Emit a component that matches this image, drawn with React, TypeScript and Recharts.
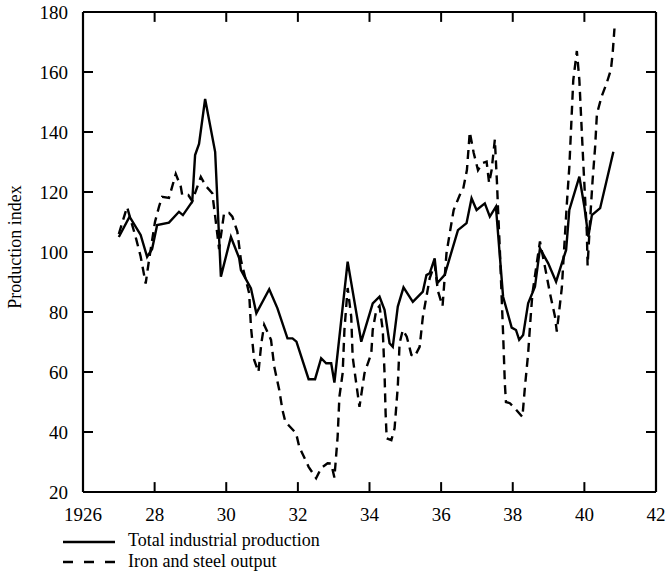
import { LineChart, Line, XAxis, YAxis, ReferenceLine } from "recharts";

// Total industrial production (solid line)
const totalYears = [
  1927.0, 1927.3, 1927.61, 1927.79, 1927.93, 1928.07, 1928.4, 1928.68, 1928.79, 1929.05,
  1929.13, 1929.24, 1929.41, 1929.69, 1929.85, 1930.13, 1930.36, 1930.41, 1930.69, 1930.84,
  1931.2, 1931.43, 1931.71, 1931.85, 1931.96, 1932.3, 1932.48, 1932.65, 1932.79, 1932.93,
  1933.02, 1933.39, 1933.77, 1934.09, 1934.28, 1934.42, 1934.56, 1934.65, 1934.79, 1934.95,
  1935.21, 1935.49, 1935.59, 1935.68, 1935.82, 1935.89, 1936.1, 1936.47, 1936.71, 1936.85,
  1936.99, 1937.22, 1937.36, 1937.53, 1937.73, 1937.97, 1938.09, 1938.18, 1938.29, 1938.43,
  1938.62, 1938.76, 1938.99, 1939.21, 1939.37, 1939.49, 1939.58, 1939.86, 1940.0, 1940.11,
  1940.21, 1940.44, 1940.81,
];
const totalValues = [
  105, 111.8, 105.7, 98.4, 101, 109, 109.8, 113.4, 112.3, 116.8,
  132.3, 136, 151, 133.4, 91.8, 105, 98, 94, 87.9, 79.6,
  87.6, 81.2, 71.2, 71.2, 70.1, 57.6, 57.6, 64.6, 62.9, 62.9,
  56.5, 96.8, 70.1, 82.9, 85.1, 80.7, 69.6, 68.4, 81.8, 88.2,
  83.4, 86.8, 92.3, 92.9, 97.9, 89.6, 92.4, 107.3, 109.6, 117.9,
  114, 116.2, 111.8, 115.1, 85.1, 74.8, 74, 70.7, 72.3, 82.9,
  88.4, 101.2, 96.2, 90.1, 96.2, 100.7, 114, 125.1, 115.1, 105.1,
  112.3, 114.6, 133.4,
];

// Iron and steel output (dashed line)
const steelYears = [
  1927.0, 1927.23, 1927.47, 1927.61, 1927.75, 1927.84, 1928.01, 1928.12, 1928.21, 1928.4,
  1928.59, 1928.73, 1928.77, 1928.94, 1929.05, 1929.29, 1929.43, 1929.61, 1929.71, 1929.8,
  1929.94, 1930.08, 1930.17, 1930.31, 1930.41, 1930.64, 1930.69, 1930.78, 1930.9, 1930.98,
  1931.06, 1931.25, 1931.34, 1931.48, 1931.57, 1931.65, 1931.76, 1931.95, 1932.04, 1932.3,
  1932.51, 1932.65, 1932.83, 1932.93, 1933.02, 1933.11, 1933.16, 1933.25, 1933.3, 1933.39,
  1933.49, 1933.53, 1933.63, 1933.72, 1933.86, 1934.05, 1934.09, 1934.19, 1934.28, 1934.37,
  1934.42, 1934.45, 1934.48, 1934.61, 1934.7, 1934.79, 1934.84, 1934.93, 1935.04, 1935.17,
  1935.26, 1935.4, 1935.49, 1935.59, 1935.68, 1935.82, 1935.91, 1936.04, 1936.15, 1936.24,
  1936.35, 1936.52, 1936.61, 1936.72, 1936.8, 1936.91, 1937.03, 1937.15, 1937.27, 1937.34,
  1937.41, 1937.5, 1937.56, 1937.59, 1937.64, 1937.69, 1937.73, 1937.78, 1937.81, 1937.92,
  1938.06, 1938.27, 1938.34, 1938.43, 1938.5, 1938.55, 1938.67, 1938.76, 1938.9, 1939.04,
  1939.18, 1939.23, 1939.3, 1939.37, 1939.51, 1939.58, 1939.69, 1939.79, 1939.86, 1939.97,
  1940.07, 1940.09, 1940.16, 1940.23, 1940.3, 1940.35, 1940.48, 1940.62, 1940.74, 1940.79,
  1940.84,
];
const steelValues = [
  106, 115, 105, 98.5, 89.5, 97, 110, 115, 118.4, 118,
  126, 121.8, 119, 119, 117, 125, 122, 119.6, 110, 101,
  113, 113, 111.8, 106.8, 97.3, 86.2, 75, 64, 60, 69.6,
  75.7, 70.7, 61.8, 54, 47.3, 43.4, 42, 39.6, 35, 28.4,
  24.6, 28, 29.6, 29.5, 24.8, 38.4, 51.8, 59.6, 74, 88,
  78.4, 65, 56.2, 48.4, 59.6, 66.2, 74, 80.7, 82, 74,
  59.6, 46.2, 37.9, 37.3, 41.2, 55.1, 69.6, 74, 71.8, 65.7,
  65.1, 68.4, 78.4, 85.1, 91.2, 96, 87, 82, 99.6, 106.2,
  114, 119, 120.7, 127.3, 140, 133, 127.3, 129.6, 130.1, 123,
  127.3, 137.5, 123, 114, 100.7, 85, 73, 56, 50, 49.6,
  47.9, 45, 55, 66.2, 78.4, 86.2, 96.2, 103.5, 95, 86.2,
  78.4, 73.5, 80.7, 88, 116, 128.4, 157.3, 167, 157.3, 129.6,
  106.2, 95.5, 110.7, 124, 135, 146, 151.8, 156.2, 160.7, 166.2,
  174.5,
];

const xTicks = [1926, 1928, 1930, 1932, 1934, 1936, 1938, 1940, 1942];
const yTicks = [20, 40, 60, 80, 100, 120, 140, 160, 180];

const totalData = totalYears.map((year, i) => ({ year, value: totalValues[i] }));
const steelData = steelYears.map((year, i) => ({ year, value: steelValues[i] }));

const X_MIN = 1926;
const X_MAX = 1942;
const Y_MIN = 20;
const Y_MAX = 180;
// inward tick length (~10px) in axis units
const TICK_X = 0.28;
const TICK_Y = 3.3;

const font = "'Liberation Serif', 'DejaVu Serif', serif";

const XTick = (props: any) => {
  const { x, y, payload } = props;
  const v = payload.value;
  const label = v === 1926 ? "1926" : String(v).slice(2);
  return (
    <text x={x} y={y} dy="0.71em" textAnchor="middle" fontSize={19} fontFamily={font} fill="#000">
      {label}
    </text>
  );
};

const YTick = (props: any) => {
  const { x, y, payload } = props;
  return (
    <text x={x} y={y} dy="0.355em" textAnchor="end" fontSize={19} fontFamily={font} fill="#000">
      {payload.value}
    </text>
  );
};

const innerX = xTicks.slice(1, -1);
const innerY = yTicks.slice(1, -1);

export default function App() {
  return (
    <div
      style={{
        position: "absolute",
        left: 0,
        top: 0,
        width: 667,
        height: 576,
        background: "#fff",
        fontFamily: font,
      }}
    >
      <LineChart width={667} height={576} margin={{ top: 12, right: 11, left: 0, bottom: 54 }}>
        <XAxis
          dataKey="year"
          type="number"
          domain={[X_MIN, X_MAX]}
          ticks={xTicks}
          height={30}
          interval={0}
          tick={<XTick />}
          stroke="#000"
          axisLine={{ strokeWidth: 2.2 }}
          tickLine={false}
          tickSize={0}
          tickMargin={16}
        />
        <YAxis
          type="number"
          domain={[Y_MIN, Y_MAX]}
          ticks={yTicks}
          width={83}
          interval={0}
          tick={<YTick />}
          stroke="#000"
          axisLine={{ strokeWidth: 2.2 }}
          tickLine={false}
          tickSize={0}
          tickMargin={15}
        />
        <ReferenceLine x={X_MAX} stroke="#000" strokeWidth={2.2} />
        <ReferenceLine y={Y_MAX} stroke="#000" strokeWidth={2.2} />
        {innerX.map((t) => (
          <ReferenceLine
            key={`xb${t}`}
            segment={[{ x: t, y: Y_MIN }, { x: t, y: Y_MIN + TICK_Y }]}
            stroke="#000"
            strokeWidth={2}
          />
        ))}
        {innerX.map((t) => (
          <ReferenceLine
            key={`xt${t}`}
            segment={[{ x: t, y: Y_MAX }, { x: t, y: Y_MAX - TICK_Y }]}
            stroke="#000"
            strokeWidth={2}
          />
        ))}
        {innerY.map((t) => (
          <ReferenceLine
            key={`yl${t}`}
            segment={[{ x: X_MIN, y: t }, { x: X_MIN + TICK_X, y: t }]}
            stroke="#000"
            strokeWidth={2}
          />
        ))}
        {innerY.map((t) => (
          <ReferenceLine
            key={`yr${t}`}
            segment={[{ x: X_MAX, y: t }, { x: X_MAX - TICK_X, y: t }]}
            stroke="#000"
            strokeWidth={2}
          />
        ))}
        <Line
          data={totalData}
          dataKey="value"
          type="linear"
          stroke="#000"
          strokeWidth={2.4}
          dot={false}
          isAnimationActive={false}
        />
        <Line
          data={steelData}
          dataKey="value"
          type="linear"
          stroke="#000"
          strokeWidth={2.4}
          strokeDasharray="9 6"
          dot={false}
          isAnimationActive={false}
        />
      </LineChart>

      <div
        style={{
          position: "absolute",
          left: 15,
          top: 247,
          fontSize: 18,
          color: "#000",
          whiteSpace: "nowrap",
          transform: "translate(-50%, -50%) rotate(-90deg)",
        }}
      >
        Production index
      </div>

      <svg width={60} height={40} style={{ position: "absolute", left: 60, top: 530 }}>
        <line x1={3} y1={12} x2={55} y2={12} stroke="#000" strokeWidth={2.6} />
        <line
          x1={3}
          y1={32}
          x2={55}
          y2={32}
          stroke="#000"
          strokeWidth={2.6}
          strokeDasharray="10 11"
        />
      </svg>
      <div
        style={{
          position: "absolute",
          left: 128,
          top: 530,
          fontSize: 18,
          lineHeight: "21px",
          color: "#000",
          whiteSpace: "nowrap",
        }}
      >
        <div>Total industrial production</div>
        <div>Iron and steel output</div>
      </div>
    </div>
  );
}
